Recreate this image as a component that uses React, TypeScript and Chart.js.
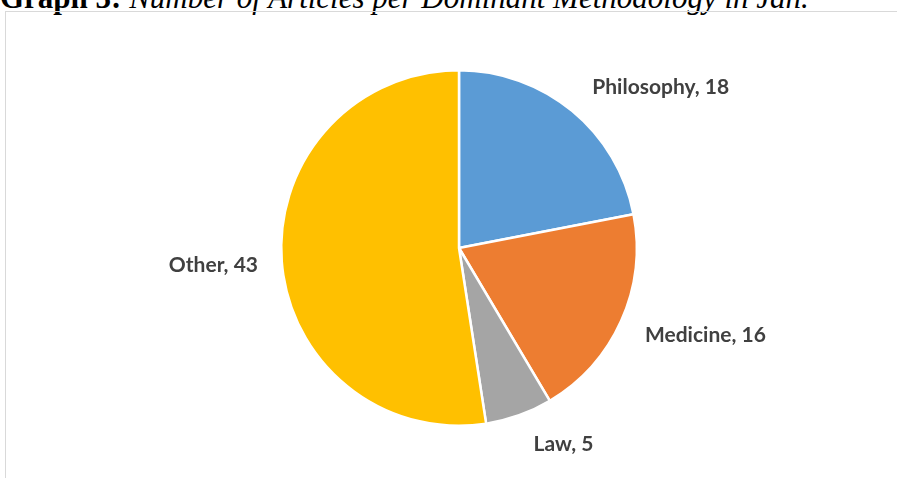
import React, { useEffect, useRef } from "react";
import { Chart, registerables } from "chart.js";

Chart.register(...registerables);

const categories = ["Philosophy", "Medicine", "Law", "Other"];
const counts = [18, 16, 5, 43];
const sliceColors = ["#5B9BD5", "#ED7D31", "#A5A5A5", "#FFC000"];
// label placement: distance (in radii) and angle offset (deg) from the slice mid-angle
const labelDist = [1.45, 1.47, 1.25, 1.385];
const labelAngleOffset = [12, -4.7, -8.3, 0.4];
const titleBold = "Graph 3:";
const titleItalic = " Number of Articles per Dominant Methodology in Jan.";

const labelPlugin = {
  id: "sliceLabels",
  afterDatasetsDraw(chart: any) {
    const ctx = chart.ctx;
    const meta = chart.getDatasetMeta(0);
    ctx.save();
    ctx.font = "bold 21px Lato";
    ctx.fillStyle = "#404040";
    ctx.textAlign = "center";
    ctx.textBaseline = "middle";
    meta.data.forEach((arc: any, i: number) => {
      const p = arc.getProps(["x", "y", "startAngle", "endAngle", "outerRadius"], true);
      const mid = (p.startAngle + p.endAngle) / 2 + (labelAngleOffset[i] * Math.PI) / 180;
      const r = p.outerRadius * labelDist[i];
      const x = p.x + Math.cos(mid) * r;
      const y = p.y + Math.sin(mid) * r;
      ctx.fillText(`${categories[i]}, ${counts[i]}`, x, y);
    });
    ctx.restore();
  },
};

export default function App() {
  const ref = useRef<HTMLCanvasElement | null>(null);
  useEffect(() => {
    if (!ref.current) return;
    const chart = new Chart(ref.current, {
      type: "pie",
      data: {
        labels: categories,
        datasets: [
          {
            data: counts,
            backgroundColor: sliceColors,
            borderColor: "#ffffff",
            borderWidth: 2.5,
          },
        ],
      },
      options: {
        animation: false,
        responsive: false,
        maintainAspectRatio: false,
        layout: { padding: { top: 69, bottom: 51, left: 280, right: 259 } },
        plugins: {
          legend: { display: false },
          tooltip: { enabled: false },
          title: { display: false },
        },
      },
      plugins: [labelPlugin],
    });
    return () => chart.destroy();
  }, []);

  return (
    <div
      style={{
        position: "fixed",
        left: 0,
        top: 0,
        width: 897,
        height: 478,
        overflow: "hidden",
        background: "#ffffff",
      }}
    >
      <div
        style={{
          position: "absolute",
          left: 0,
          top: -19,
          whiteSpace: "nowrap",
          fontFamily: "'Liberation Serif', 'Times New Roman', serif",
          fontSize: 31,
          lineHeight: "34px",
          color: "#000",
        }}
      >
        <b>{titleBold}</b>
        <i>{titleItalic}</i>
      </div>
      <div
        style={{
          position: "absolute",
          left: 5,
          top: 11,
          width: 900,
          height: 480,
          border: "1px solid #d9d9d9",
        }}
      />
      <canvas ref={ref} width={897} height={478} style={{ position: "absolute", left: 0, top: 0 }} />
    </div>
  );
}
